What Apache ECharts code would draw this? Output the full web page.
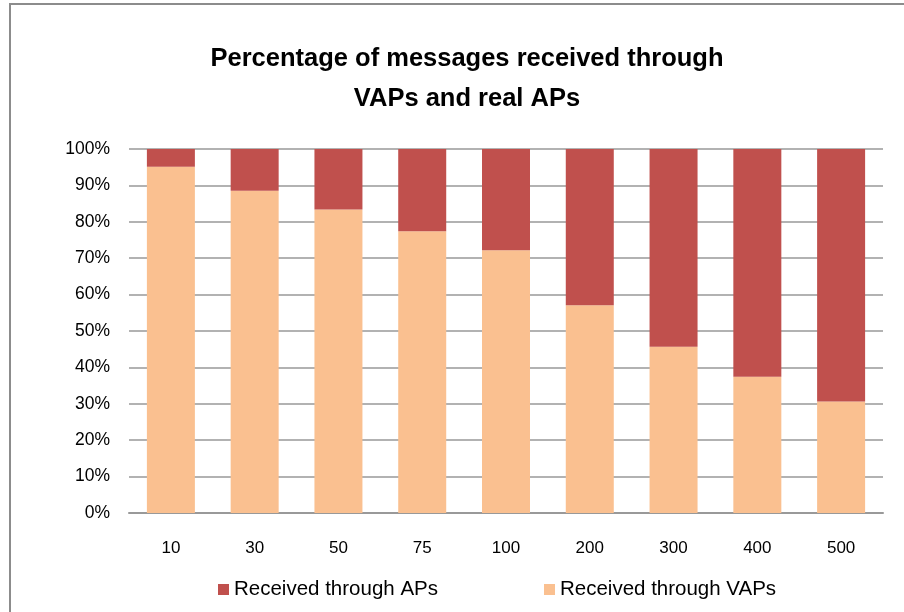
<!DOCTYPE html>
<html>
<head>
<meta charset="utf-8">
<script src="https://cdn.jsdelivr.net/npm/echarts@6/dist/echarts.min.js"></script>
<style>html,body{margin:0;padding:0;background:#fff}#c{width:904px;height:612px}</style>
</head>
<body>
<div id="c"></div>
<script>
const categories = ['10', '30', '50', '75', '100', '200', '300', '400', '500'];
const vapValues = [95.1, 88.5, 83.4, 77.4, 72.2, 57.1, 45.7, 37.4, 30.6];
const apValues = [4.9, 11.5, 16.6, 22.6, 27.8, 42.9, 54.3, 62.6, 69.4];
const seriesNames = ['Received through APs', 'Received through VAPs'];
const yTicks = [0, 10, 20, 30, 40, 50, 60, 70, 80, 90, 100];

const chart = echarts.init(document.getElementById('c'), null, {renderer: 'canvas'});
const font = 'Liberation Sans';
chart.setOption({
  animation: false,
  backgroundColor: '#fff',
  title: {
    text: 'Percentage of messages received through\nVAPs and real APs',
    left: 467,
    textAlign: 'center',
    top: 39,
    padding: 0,
    textStyle: {fontFamily: font, fontWeight: 'bold', fontSize: 25.5, lineHeight: 40, color: '#000'}
  },
  graphic: [{
    type: 'polyline',
    shape: {points: [[10, 612], [10, 4], [904, 4]]},
    style: {stroke: '#8c8c8c', lineWidth: 2, fill: null},
    silent: true
  }],
  legend: {
    data: seriesNames,
    left: 213,
    top: 574,
    icon: 'rect',
    itemWidth: 11,
    itemHeight: 11,
    itemGap: 106,
    textStyle: {fontFamily: font, fontSize: 20.5, color: '#000'}
  },
  grid: {left: 129, right: 21, top: 149, bottom: 99, containLabel: false},
  xAxis: {
    type: 'category',
    data: categories,
    axisLine: {lineStyle: {color: '#999', width: 2}},
    axisTick: {show: false},
    axisLabel: {fontFamily: font, fontSize: 17, color: '#000', margin: 27}
  },
  yAxis: {
    type: 'value',
    min: yTicks[0],
    max: yTicks[yTicks.length - 1],
    interval: 10,
    axisLine: {show: false},
    axisTick: {show: false},
    axisLabel: {fontFamily: font, fontSize: 17.5, color: '#000', margin: 19, formatter: v => v + '%'},
    splitLine: {lineStyle: {color: '#999', width: 1.5}}
  },
  series: [
    {
      name: seriesNames[1],
      type: 'bar',
      stack: 'total',
      barWidth: 48,
      data: vapValues,
      itemStyle: {color: '#FAC090'}
    },
    {
      name: seriesNames[0],
      type: 'bar',
      stack: 'total',
      barWidth: 48,
      data: apValues,
      itemStyle: {color: '#C0504D'}
    }
  ]
});
</script>
</body>
</html>
